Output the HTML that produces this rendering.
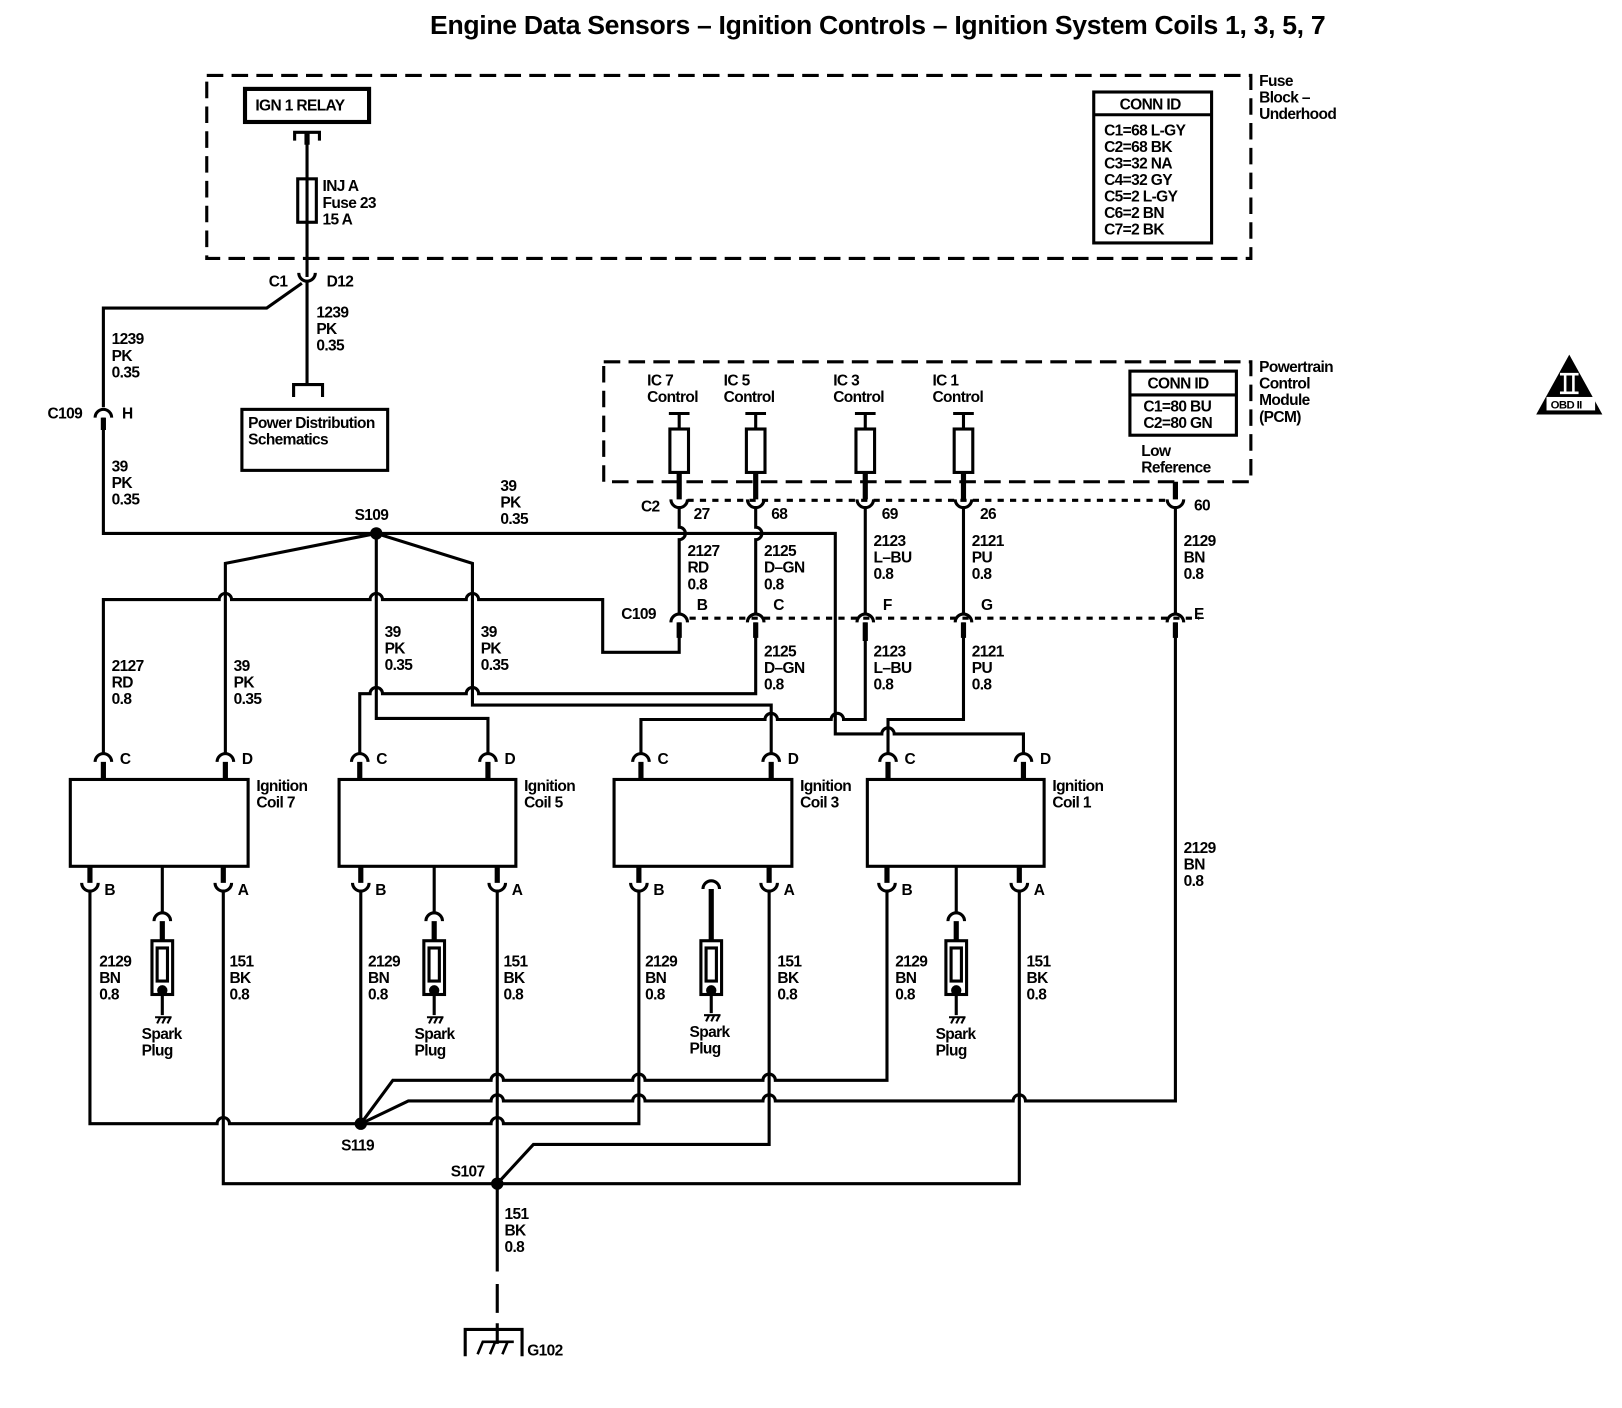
<!DOCTYPE html>
<html><head><meta charset="utf-8"><style>
html,body{margin:0;padding:0;background:#fff;}
svg{display:block;}
text{font-family:"Liberation Sans",Arial,sans-serif;font-size:15px;font-weight:bold;fill:#000;letter-spacing:-0.6px;}
</style></head><body>
<svg width="1622" height="1408" viewBox="0 0 1569 1362" xmlns="http://www.w3.org/2000/svg">
<rect width="1569" height="1362" fill="#fff"/>
<text x="416" y="33" style="font-size:25px;letter-spacing:-0.3px" textLength="866" lengthAdjust="spacingAndGlyphs">Engine Data Sensors – Ignition Controls – Ignition System Coils 1, 3, 5, 7</text>

<g fill="none" stroke="#000" stroke-width="3">
<rect x="200" y="73" width="1010" height="177" stroke-dasharray="16 8"/>
<rect x="584" y="350" width="626" height="116" stroke-dasharray="16 8"/>
<rect x="237" y="86" width="120" height="32" stroke-width="4"/>
<path d="M285,136 V128 H309 V136 M297,128 V268"/>
<rect x="288" y="173" width="18" height="42"/>
<rect x="1058" y="89" width="114" height="146"/>
<path d="M1058,111 H1172"/>
<rect x="1093" y="359" width="103" height="62"/>
<path d="M1093,382 H1196"/>
<path d="M289,264 A8,8 0 0 0 305,264"/>
<path d="M297,272 V372 M292,274 L258,298 H100 V394"/>
<path d="M284,384 V372 H312 V384"/>
<rect x="234" y="396" width="141" height="59"/>
<path d="M92,404 A8,8 0 0 1 108,404"/>
<path d="M100,404 V516 H808 V710 H853 A6,6 0 0 1 865,710 H990 V729"/>
<path d="M364,516 L218,545 V729"/>
<path d="M364,516 L457,545 V682 H746 V729"/>
<path d="M364,516 V695 H472 V729"/>
<path d="M100,729 V580 H212 A6,6 0 0 1 224,580 H358 A6,6 0 0 1 370,580 H451 A6,6 0 0 1 463,580 H583 V631 H657 V602"/>
<path d="M348,729 V671 H358 A6,6 0 0 1 370,671 H451 A6,6 0 0 1 463,671 H731 V602"/>
<path d="M657,491 V510 A6,6 0 0 1 657,522 V594"/>
<path d="M731,491 V510 A6,6 0 0 1 731,522 V594"/>
<path d="M837,491 V594 M932,491 V594 M1137,491 V594"/>
<path d="M837,602 V696 H816 A6,6 0 0 0 804,696 H752 A6,6 0 0 0 740,696 H620 V729"/>
<path d="M932,602 V696 H859 V729"/>
<path d="M649,483 A8,8 0 0 0 665,483 M723,483 A8,8 0 0 0 739,483 M829,483 A8,8 0 0 0 845,483 M924,483 A8,8 0 0 0 940,483 M1129,483 A8,8 0 0 0 1145,483"/>
<path d="M665,484 H1129" stroke-dasharray="6 6"/>
<path d="M649,602 A8,8 0 0 1 665,602 M723,602 A8,8 0 0 1 739,602 M829,602 A8,8 0 0 1 845,602 M924,602 A8,8 0 0 1 940,602 M1129,602 A8,8 0 0 1 1145,602"/>
<path d="M667,598 H1160" stroke-dasharray="6 6"/>
<path d="M647,400 H667 M657,400 V415 M721,400 H741 M731,400 V415 M827,400 H847 M837,400 V415 M922,400 H942 M932,400 V415"/>
<rect x="648" y="415" width="18" height="42"/><rect x="722" y="415" width="18" height="42"/>
<rect x="828" y="415" width="18" height="42"/><rect x="923" y="415" width="18" height="42"/>
<rect x="68" y="754" width="172" height="84"/>
<rect x="328" y="754" width="171" height="84"/>
<rect x="594" y="754" width="172" height="84"/>
<rect x="839" y="754" width="171" height="84"/>
<path d="M92,737 A8,8 0 0 1 108,737 M210,737 A8,8 0 0 1 226,737 M340,737 A8,8 0 0 1 356,737 M464,737 A8,8 0 0 1 480,737 M612,737 A8,8 0 0 1 628,737 M738,737 A8,8 0 0 1 754,737 M851,737 A8,8 0 0 1 867,737 M982,737 A8,8 0 0 1 998,737"/>
<path d="M79,854 A8,8 0 0 0 95,854 M208,854 A8,8 0 0 0 224,854 M341,854 A8,8 0 0 0 357,854 M473,854 A8,8 0 0 0 489,854 M610,854 A8,8 0 0 0 626,854 M736,854 A8,8 0 0 0 752,854 M850,854 A8,8 0 0 0 866,854 M978,854 A8,8 0 0 0 994,854"/>
<path d="M157,838 V883 M149,891 A8,8 0 0 1 165,891"/>
<path d="M420,838 V883 M412,891 A8,8 0 0 1 428,891"/>
<path d="M925,838 V883 M917,891 A8,8 0 0 1 933,891"/>
<path d="M680,860 A8,8 0 0 1 696,860"/>
<rect x="147" y="910" width="20" height="52"/><rect x="152" y="917" width="10" height="32"/>
<rect x="410" y="910" width="20" height="52"/><rect x="415" y="917" width="10" height="32"/>
<rect x="915" y="910" width="20" height="52"/><rect x="920" y="917" width="10" height="32"/>
<rect x="678" y="910" width="20" height="52"/><rect x="683" y="917" width="10" height="32"/>
<path d="M157,958 V982 M420,958 V982 M925,958 V982 M688,958 V980"/>
<path d="M87,862 V1087 H210 A6,6 0 0 1 222,1087 H475 A6,6 0 0 1 487,1087 H618 V862"/>
<path d="M349,862 V1087"/>
<path d="M858,862 V1045 H750 A6,6 0 0 0 738,1045 H624 A6,6 0 0 0 612,1045 H487 A6,6 0 0 0 475,1045 H380 L349,1087"/>
<path d="M1137,602 V1065 H992 A6,6 0 0 0 980,1065 H750 A6,6 0 0 0 738,1065 H624 A6,6 0 0 0 612,1065 H487 A6,6 0 0 0 475,1065 H395 L349,1087"/>
<path d="M216,862 V1145 H986 V862"/>
<path d="M481,862 V1230 M481,1242 V1270 M481,1280 V1300"/>
<path d="M481,1145 L516,1107 H744 V862"/>
<path d="M450,1312 V1286 H505 V1312"/>
<path d="M462,1310 L467,1298 H497 M474,1310 L479,1298 M486,1310 L491,1298" stroke-width="2.5"/>
</g>
<g stroke="#000" stroke-width="5">
<path d="M100,737 V754 M218,737 V754 M348,737 V754 M472,737 V754 M620,737 V754 M746,737 V754 M859,737 V754 M990,737 V754"/>
<path d="M87,838 V854 M216,838 V854 M349,838 V854 M481,838 V854 M618,838 V854 M744,838 V854 M858,838 V854 M986,838 V854"/>
<path d="M157,891 V910 M420,891 V910 M925,891 V910 M688,860 V910"/>
<path d="M657,457 V483 M731,457 V483 M837,457 V483 M932,457 V483 M1137,466 V483"/>
<path d="M657,602 V617 M731,602 V617 M837,602 V620 M932,602 V617 M1137,602 V617"/>
<path d="M297,128 V140 M100,404 V416"/>
</g>
<g fill="#000">
<circle cx="364" cy="516" r="6"/><circle cx="349" cy="1087" r="6"/><circle cx="481" cy="1145" r="6"/>
<circle cx="157" cy="958" r="5"/><circle cx="420" cy="958" r="5"/><circle cx="688" cy="958" r="5"/><circle cx="925" cy="958" r="5"/>
</g>
<g stroke="#000" stroke-width="2"><path d="M150,984 H166 M152,990 L155,984 M157,990 L160,984 M162,990 L165,984"/>
<path d="M413,984 H429 M415,990 L418,984 M420,990 L423,984 M425,990 L428,984"/>
<path d="M681,982 H697 M683,988 L686,982 M688,988 L691,982 M693,988 L696,982"/>
<path d="M918,984 H934 M920,990 L923,984 M925,990 L928,984 M930,990 L933,984"/></g>
<path d="M1518,343 L1550,401 H1486 Z" fill="#000"/>
<rect x="1496" y="384" width="47" height="13" fill="#fff"/>
<path d="M1509,362 H1527 M1509,380 H1527 M1514,363 V379 M1522,363 V379" stroke="#fff" stroke-width="2.5"/>
<text x="1500" y="395" style="font-size:11px">OBD II</text>

<text x="247" y="107">IGN 1 RELAY</text>
<text x="312" y="185">INJ A</text><text x="312" y="201">Fuse 23</text><text x="312" y="217">15 A</text>
<text x="1218" y="83">Fuse</text><text x="1218" y="99">Block –</text><text x="1218" y="115">Underhood</text>
<text x="1083" y="106">CONN ID</text>
<text x="1068" y="131">C1=68 L-GY</text><text x="1068" y="147">C2=68 BK</text><text x="1068" y="163">C3=32 NA</text><text x="1068" y="179">C4=32 GY</text><text x="1068" y="195">C5=2 L-GY</text><text x="1068" y="211">C6=2 BN</text><text x="1068" y="227">C7=2 BK</text>
<text x="260" y="277">C1</text><text x="316" y="277">D12</text>
<text x="306" y="307">1239</text><text x="306" y="323">PK</text><text x="306" y="339">0.35</text>
<text x="108" y="333">1239</text><text x="108" y="349">PK</text><text x="108" y="365">0.35</text>
<text x="240" y="414">Power Distribution</text><text x="240" y="430">Schematics</text>
<text x="46" y="405">C109</text><text x="118" y="405">H</text>
<text x="108" y="456">39</text><text x="108" y="472">PK</text><text x="108" y="488">0.35</text>
<text x="484" y="475">39</text><text x="484" y="491">PK</text><text x="484" y="507">0.35</text>
<text x="343" y="503">S109</text>
<text x="626" y="373">IC 7</text><text x="626" y="389">Control</text>
<text x="700" y="373">IC 5</text><text x="700" y="389">Control</text>
<text x="806" y="373">IC 3</text><text x="806" y="389">Control</text>
<text x="902" y="373">IC 1</text><text x="902" y="389">Control</text>
<text x="1110" y="376">CONN ID</text><text x="1106" y="398">C1=80 BU</text><text x="1106" y="414">C2=80 GN</text>
<text x="1104" y="441">Low</text><text x="1104" y="457">Reference</text>
<text x="1218" y="360">Powertrain</text><text x="1218" y="376">Control</text><text x="1218" y="392">Module</text><text x="1218" y="408">(PCM)</text>
<text x="620" y="495">C2</text><text x="671" y="502">27</text><text x="746" y="502">68</text><text x="853" y="502">69</text><text x="948" y="502">26</text><text x="1155" y="494">60</text>
<text x="665" y="538">2127</text><text x="665" y="554">RD</text><text x="665" y="570">0.8</text>
<text x="739" y="538">2125</text><text x="739" y="554">D–GN</text><text x="739" y="570">0.8</text>
<text x="845" y="528">2123</text><text x="845" y="544">L–BU</text><text x="845" y="560">0.8</text>
<text x="940" y="528">2121</text><text x="940" y="544">PU</text><text x="940" y="560">0.8</text>
<text x="1145" y="528">2129</text><text x="1145" y="544">BN</text><text x="1145" y="560">0.8</text>
<text x="601" y="599">C109</text><text x="674" y="590">B</text><text x="748" y="590">C</text><text x="854" y="590">F</text><text x="949" y="590">G</text><text x="1155" y="599">E</text>
<text x="739" y="635">2125</text><text x="739" y="651">D–GN</text><text x="739" y="667">0.8</text>
<text x="845" y="635">2123</text><text x="845" y="651">L–BU</text><text x="845" y="667">0.8</text>
<text x="940" y="635">2121</text><text x="940" y="651">PU</text><text x="940" y="667">0.8</text>
<text x="108" y="649">2127</text><text x="108" y="665">RD</text><text x="108" y="681">0.8</text>
<text x="226" y="649">39</text><text x="226" y="665">PK</text><text x="226" y="681">0.35</text>
<text x="372" y="616">39</text><text x="372" y="632">PK</text><text x="372" y="648">0.35</text>
<text x="465" y="616">39</text><text x="465" y="632">PK</text><text x="465" y="648">0.35</text>
<text x="116" y="739">C</text><text x="234" y="739">D</text><text x="364" y="739">C</text><text x="488" y="739">D</text><text x="636" y="739">C</text><text x="762" y="739">D</text><text x="875" y="739">C</text><text x="1006" y="739">D</text>
<text x="248" y="765">Ignition</text><text x="248" y="781">Coil 7</text>
<text x="507" y="765">Ignition</text><text x="507" y="781">Coil 5</text>
<text x="774" y="765">Ignition</text><text x="774" y="781">Coil 3</text>
<text x="1018" y="765">Ignition</text><text x="1018" y="781">Coil 1</text>
<text x="101" y="866">B</text><text x="230" y="866">A</text><text x="363" y="866">B</text><text x="495" y="866">A</text><text x="632" y="866">B</text><text x="758" y="866">A</text><text x="872" y="866">B</text><text x="1000" y="866">A</text>
<text x="96" y="935">2129</text><text x="96" y="951">BN</text><text x="96" y="967">0.8</text>
<text x="222" y="935">151</text><text x="222" y="951">BK</text><text x="222" y="967">0.8</text>
<text x="356" y="935">2129</text><text x="356" y="951">BN</text><text x="356" y="967">0.8</text>
<text x="487" y="935">151</text><text x="487" y="951">BK</text><text x="487" y="967">0.8</text>
<text x="624" y="935">2129</text><text x="624" y="951">BN</text><text x="624" y="967">0.8</text>
<text x="752" y="935">151</text><text x="752" y="951">BK</text><text x="752" y="967">0.8</text>
<text x="866" y="935">2129</text><text x="866" y="951">BN</text><text x="866" y="967">0.8</text>
<text x="993" y="935">151</text><text x="993" y="951">BK</text><text x="993" y="967">0.8</text>
<text x="137" y="1005">Spark</text><text x="137" y="1021">Plug</text>
<text x="401" y="1005">Spark</text><text x="401" y="1021">Plug</text>
<text x="667" y="1003">Spark</text><text x="667" y="1019">Plug</text>
<text x="905" y="1005">Spark</text><text x="905" y="1021">Plug</text>
<text x="1145" y="825">2129</text><text x="1145" y="841">BN</text><text x="1145" y="857">0.8</text>
<text x="330" y="1113">S119</text><text x="436" y="1138">S107</text>
<text x="488" y="1179">151</text><text x="488" y="1195">BK</text><text x="488" y="1211">0.8</text>
<text x="510" y="1311">G102</text>
</svg>
</body></html>
